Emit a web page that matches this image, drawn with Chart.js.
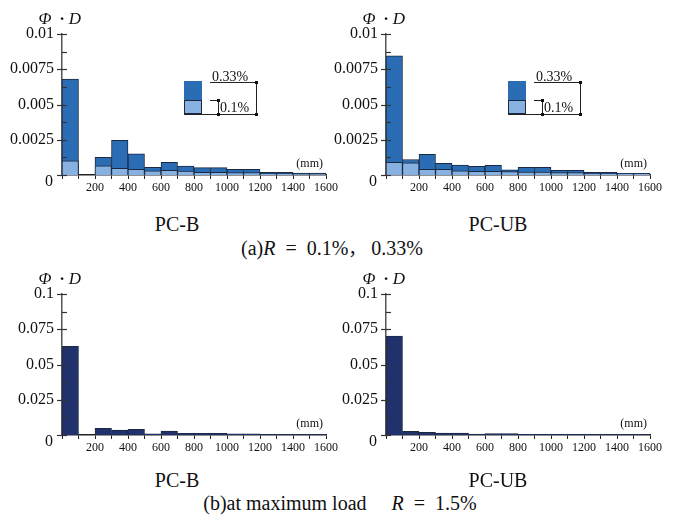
<!DOCTYPE html>
<html>
<head>
<meta charset="utf-8">
<script src="https://cdn.jsdelivr.net/npm/chart.js@4.4.1/dist/chart.umd.min.js"></script>
<style>
  body { margin: 0; background: #fff; }
  #wrap { position: relative; width: 675px; height: 518px; font-family: "Liberation Serif", "DejaVu Serif", serif; color: #111; }
  .panel { position: absolute; width: 340px; height: 200px; }
  .txt { position: absolute; white-space: nowrap; transform: translate(-50%, -50%); font-size: 20px; }
  .cjk { font-family: "Noto Sans CJK SC", sans-serif; font-size: 18px; }
</style>
</head>
<body>
<div id="wrap">
  <div class="panel" style="left:0;top:0"><canvas id="c1" width="340" height="200"></canvas></div>
  <div class="panel" style="left:324px;top:0"><canvas id="c2" width="340" height="200"></canvas></div>
  <div class="panel" style="left:0;top:260px"><canvas id="c3" width="340" height="200"></canvas></div>
  <div class="panel" style="left:324px;top:260px"><canvas id="c4" width="340" height="200"></canvas></div>
  <div class="txt" style="left:177px;top:224px">PC-B</div>
  <div class="txt" style="left:498px;top:224px">PC-UB</div>
  <div class="txt" style="left:332px;top:247px">(a)<i>R</i>&ensp;=&ensp;0.1%<span class="cjk">，</span>&nbsp;0.33%</div>
  <div class="txt" style="left:177px;top:480px">PC-B</div>
  <div class="txt" style="left:498px;top:480px">PC-UB</div>
  <div class="txt" style="left:340px;top:503px">(b)at maximum load&emsp;&nbsp;<i>R</i>&ensp;=&ensp;1.5%</div>
</div>
<script>
// bins of 100 mm, start of each bin
const binStarts = [0, 100, 200, 300, 400, 500, 600, 700, 800, 900, 1000, 1100, 1200, 1300, 1400, 1500];

// (a) R = 0.1%, 0.33%
const pcbR033 = [0.0068, 0, 0.00126, 0.00246, 0.00151, 0.00055, 0.0009, 0.00064, 0.00052, 0.00052, 0.0004, 0.0004, 0.00019, 0.00019, 0.00013, 0.00013];
const pcbR01 = [0.001, 0, 0.00065, 0.00047, 0.0004, 0.0003, 0.00033, 0.00027, 0.00019, 0.00019, 0.00018, 0.00018, 0.0001, 0.0001, 0.00006, 0.00006];
const pcubR033 = [0.00845, 0.0011, 0.00147, 0.00083, 0.00071, 0.00062, 0.00069, 0.00036, 0.00055, 0.00055, 0.00033, 0.00033, 0.00019, 0.00019, 0.00012, 0.00012];
const pcubR01 = [0.0009, 0.00086, 0.0004, 0.0004, 0.0003, 0.00026, 0.00026, 0.00025, 0.00021, 0.00021, 0.00017, 0.00017, 0.0001, 0.0001, 0.00008, 0.00008];

// (b) at maximum load R = 1.5%
const pcbMax = [0.0628, 0, 0.0048, 0.0035, 0.004, 0.0008, 0.0028, 0.0012, 0.0012, 0.0012, 0.0008, 0.0008, 0.0004, 0.0004, 0.0004, 0.0004];
const pcubMax = [0.0701, 0.0026, 0.0019, 0.0013, 0.0013, 0.0007, 0.001, 0.001, 0.0005, 0.0005, 0.0005, 0.0005, 0.0004, 0.0004, 0.0004, 0.0004];

const xTickLabels = ['200', '400', '600', '800', '1000', '1200', '1400', '1600'];
const yTicksA = ['0', '0.0025', '0.005', '0.0075', '0.01'];
const yTicksB = ['0', '0.025', '0.05', '0.075', '0.1'];

const DARK = '#2a6db5';
const LIGHT = '#86b1e0';
const NAVY = '#21316b';
const EDGE = '#1b2a42';
const SERIF = '"Liberation Serif", "DejaVu Serif", serif';

function toPoints(vals) {
  return vals.map((v, i) => ({ x: binStarts[i] + 50, y: v }));
}

// extra drawing: y ticks on both sides, the lowered "0" label, axis title, (mm), legend diagram
const decor = {
  id: 'decor',
  afterDraw(chart, args, opts) {
    const ctx = chart.ctx;
    const a = chart.chartArea;
    const ys = chart.scales.y;
    ctx.save();
    ctx.strokeStyle = '#333';
    ctx.lineWidth = 1.2;
    ys.ticks.forEach(t => {
      const py = Math.round(ys.getPixelForValue(t.value)) + 0.5;
      const major = t.label !== '' || t.value === 0;
      ctx.beginPath();
      ctx.moveTo(a.left - (major ? 5 : 0), py);
      ctx.lineTo(a.left + 5, py);
      ctx.stroke();
    });
    ctx.fillStyle = '#111';
    ctx.font = '16px ' + SERIF;
    ctx.textAlign = 'right';
    ctx.textBaseline = 'middle';
    ctx.fillText(opts.yLabels[0], a.left - 9, a.bottom + 7);

    // y axis title
    ctx.textAlign = 'center';
    ctx.font = 'italic 17px ' + SERIF;
    ctx.fillText('Φ', a.left - 17, a.top - 14);
    ctx.fillText('D', a.left + 13, a.top - 14);
    ctx.font = 'bold 17px ' + SERIF;
    ctx.fillText('·', a.left, a.top - 14);
    ctx.font = '12px ' + SERIF;
    ctx.textAlign = 'right';
    ctx.fillText('(mm)', a.right - 3, a.bottom - 11);

    if (opts.legend) {
      const x0 = a.left + 122, y0 = a.top + 47;
      ctx.fillStyle = DARK;
      ctx.fillRect(x0, y0, 18, 19);
      ctx.fillStyle = LIGHT;
      ctx.fillRect(x0, y0 + 19, 18, 14);
      ctx.strokeStyle = EDGE;
      ctx.lineWidth = 1;
      ctx.strokeRect(x0 + 0.5, y0 + 19.5, 17, 13);
      ctx.strokeStyle = '#222';
      ctx.beginPath();
      ctx.moveTo(x0, y0 + 33.5); ctx.lineTo(x0 + 73, y0 + 33.5);
      ctx.moveTo(x0 + 26, y0 + 1.5); ctx.lineTo(x0 + 73.5, y0 + 1.5);
      ctx.moveTo(x0 + 72.5, y0 + 1.5); ctx.lineTo(x0 + 72.5, y0 + 33.5);
      ctx.moveTo(x0 + 26, y0 + 19.5); ctx.lineTo(x0 + 35.5, y0 + 19.5);
      ctx.moveTo(x0 + 34.5, y0 + 19.5); ctx.lineTo(x0 + 34.5, y0 + 33.5);
      ctx.stroke();
      ctx.fillStyle = '#111';
      [[34.5, 19.5], [34.5, 33.5], [72.5, 1.5], [72.5, 33.5]].forEach(p => {
        ctx.fillRect(x0 + p[0] - 1.5, y0 + p[1] - 1.5, 3, 3);
      });
      ctx.font = '14px ' + SERIF;
      ctx.textAlign = 'left';
      ctx.textBaseline = 'alphabetic';
      ctx.fillText('0.33%', x0 + 28, y0);
      ctx.fillText('0.1%', x0 + 36, y0 + 31);
    }
    ctx.restore();
  }
};

function makeChart(id, datasets, yMax, yLabels, legend) {
  new Chart(document.getElementById(id), {
    type: 'bar',
    data: { datasets: datasets },
    options: {
      responsive: false,
      animation: false,
      devicePixelRatio: 1,
      layout: { padding: { left: 0, right: 13, top: 34, bottom: 0 } },
      plugins: { legend: { display: false }, tooltip: { enabled: false }, decor: { legend: legend, yLabels: yLabels } },
      scales: {
        x: {
          type: 'linear',
          min: 0, max: 1600,
          offset: false,
          grid: { display: true, drawOnChartArea: false, offset: false, tickLength: 4, color: '#222' },
          border: { color: '#222', width: 1.5 },
          ticks: {
            stepSize: 100, autoSkip: false, maxRotation: 0, padding: 2,
            color: '#111', font: { family: SERIF, size: 12 },
            callback: v => xTickLabels.includes(String(v)) ? String(v) : ''
          },
          afterFit: s => { s.height = 25; }
        },
        y: {
          min: 0, max: yMax,
          grid: { display: false, drawTicks: false },
          border: { color: '#555', width: 1.5 },
          ticks: {
            stepSize: yMax / 8, padding: 8, autoSkip: false,
            color: '#111', font: { family: SERIF, size: 16 },
            callback: v => {
              if (v === 0) return '';
              const l = yLabels.find(s => Math.abs(Number(s) - v) < yMax * 1e-6);
              return l === undefined ? '' : l;
            }
          },
          afterFit: s => { s.width = 62; }
        }
      }
    },
    plugins: [decor]
  });
}

function ds(vals, color) {
  return {
    data: toPoints(vals),
    backgroundColor: color,
    borderColor: EDGE,
    borderWidth: 1,
    barPercentage: 1,
    categoryPercentage: 1,
    grouped: false
  };
}

makeChart('c1', [ds(pcbR01, LIGHT), ds(pcbR033, DARK)], 0.01, yTicksA, true);
makeChart('c2', [ds(pcubR01, LIGHT), ds(pcubR033, DARK)], 0.01, yTicksA, true);
makeChart('c3', [ds(pcbMax, NAVY)], 0.1, yTicksB, false);
makeChart('c4', [ds(pcubMax, NAVY)], 0.1, yTicksB, false);
</script>
</body>
</html>
